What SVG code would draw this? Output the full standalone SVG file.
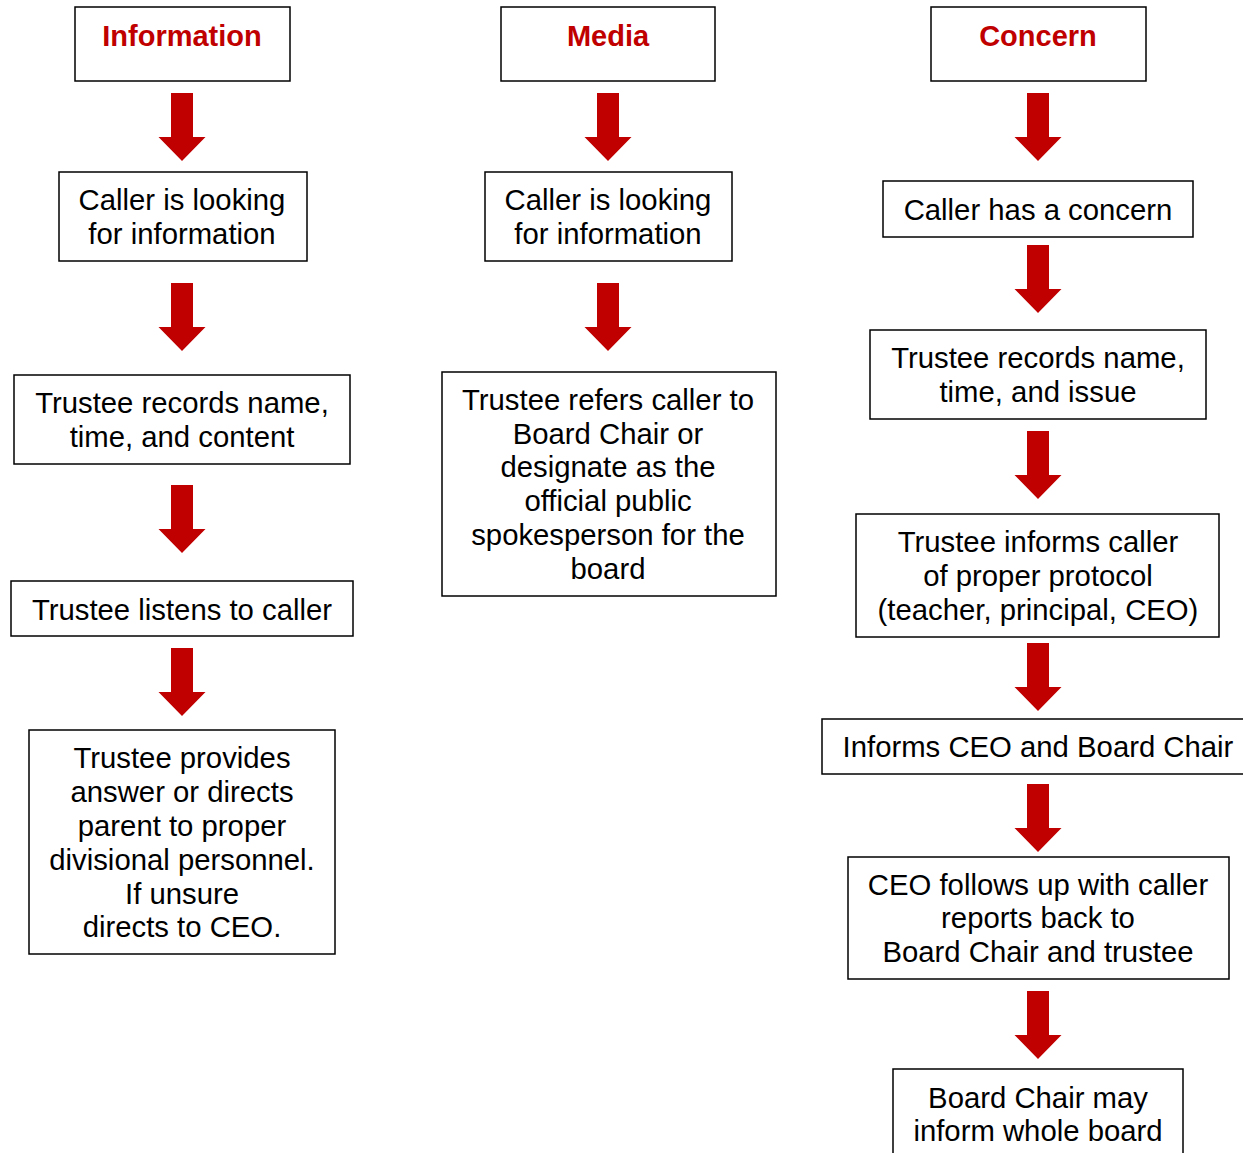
<svg xmlns="http://www.w3.org/2000/svg" width="1243" height="1153" viewBox="0 0 1243 1153">
<defs>
<style>
.box{fill:#fff;stroke:#000;stroke-width:1.5}
.t{font-family:"Liberation Sans",Arial,sans-serif;font-size:29.3px;fill:#000;text-anchor:middle}
.h{font-family:"Liberation Sans",Arial,sans-serif;font-size:29px;font-weight:bold;fill:#c00000;text-anchor:middle}
.arr{fill:#c00000}
</style>
<polygon id="a" class="arr" points="-11,0 11,0 11,44 23.5,44 0,68 -23.5,44 -11,44"/>
</defs>
<rect width="1243" height="1153" fill="#fff"/>
<g id="connectors">
<use href="#a" x="182" y="93"/>
<use href="#a" x="182" y="283"/>
<use href="#a" x="182" y="485"/>
<use href="#a" x="182" y="648"/>
<use href="#a" x="608" y="93"/>
<use href="#a" x="608" y="283"/>
<use href="#a" x="1038" y="93"/>
<use href="#a" x="1038" y="245"/>
<use href="#a" x="1038" y="431"/>
<use href="#a" x="1038" y="643"/>
<use href="#a" x="1038" y="784"/>
<use href="#a" x="1038" y="991"/>
</g>
<g id="n-information"><rect class="box" x="75" y="7" width="215" height="74"/><text class="h" x="182" y="46">Information</text></g>
<g id="n-info-caller"><rect class="box" x="59" y="172" width="248" height="89"/><text class="t" x="182" y="210">Caller is looking</text><text class="t" x="182" y="244">for information</text></g>
<g id="n-info-records"><rect class="box" x="14" y="375" width="336" height="89"/><text class="t" x="182" y="413">Trustee records name,</text><text class="t" x="182" y="447">time, and content</text></g>
<g id="n-info-listens"><rect class="box" x="11" y="581" width="342" height="55"/><text class="t" x="182" y="620">Trustee listens to caller</text></g>
<g id="n-info-provides"><rect class="box" x="29" y="730" width="306" height="224"/><text class="t" x="182" y="768">Trustee provides</text><text class="t" x="182" y="802">answer or directs</text><text class="t" x="182" y="836">parent to proper</text><text class="t" x="182" y="870">divisional personnel.</text><text class="t" x="182" y="904">If unsure</text><text class="t" x="182" y="937">directs to CEO.</text></g>
<g id="n-media"><rect class="box" x="501" y="7" width="214" height="74"/><text class="h" x="608" y="46">Media</text></g>
<g id="n-media-caller"><rect class="box" x="485" y="172" width="247" height="89"/><text class="t" x="608" y="210">Caller is looking</text><text class="t" x="608" y="244">for information</text></g>
<g id="n-media-refers"><rect class="box" x="442" y="372" width="334" height="224"/><text class="t" x="608" y="410">Trustee refers caller to</text><text class="t" x="608" y="444">Board Chair or</text><text class="t" x="608" y="477">designate as the</text><text class="t" x="608" y="511">official public</text><text class="t" x="608" y="545">spokesperson for the</text><text class="t" x="608" y="579">board</text></g>
<g id="n-concern"><rect class="box" x="931" y="7" width="215" height="74"/><text class="h" x="1038" y="46">Concern</text></g>
<g id="n-concern-caller"><rect class="box" x="883" y="181" width="310" height="56"/><text class="t" x="1038" y="220">Caller has a concern</text></g>
<g id="n-concern-records"><rect class="box" x="870" y="330" width="336" height="89"/><text class="t" x="1038" y="368">Trustee records name,</text><text class="t" x="1038" y="402">time, and issue</text></g>
<g id="n-concern-protocol"><rect class="box" x="856" y="514" width="363" height="123"/><text class="t" x="1038" y="552">Trustee informs caller</text><text class="t" x="1038" y="586">of proper protocol</text><text class="t" x="1038" y="620">(teacher, principal, CEO)</text></g>
<g id="n-concern-informs"><rect class="box" x="822" y="719" width="425" height="55"/><text class="t" x="1038" y="757">Informs CEO and Board Chair</text></g>
<g id="n-concern-ceo"><rect class="box" x="848" y="857" width="381" height="122"/><text class="t" x="1038" y="895">CEO follows up with caller</text><text class="t" x="1038" y="928">reports back to</text><text class="t" x="1038" y="962">Board Chair and trustee</text></g>
<g id="n-concern-board"><rect class="box" x="893" y="1069" width="290" height="95"/><text class="t" x="1038" y="1108">Board Chair may</text><text class="t" x="1038" y="1141">inform whole board</text></g>
</svg>
